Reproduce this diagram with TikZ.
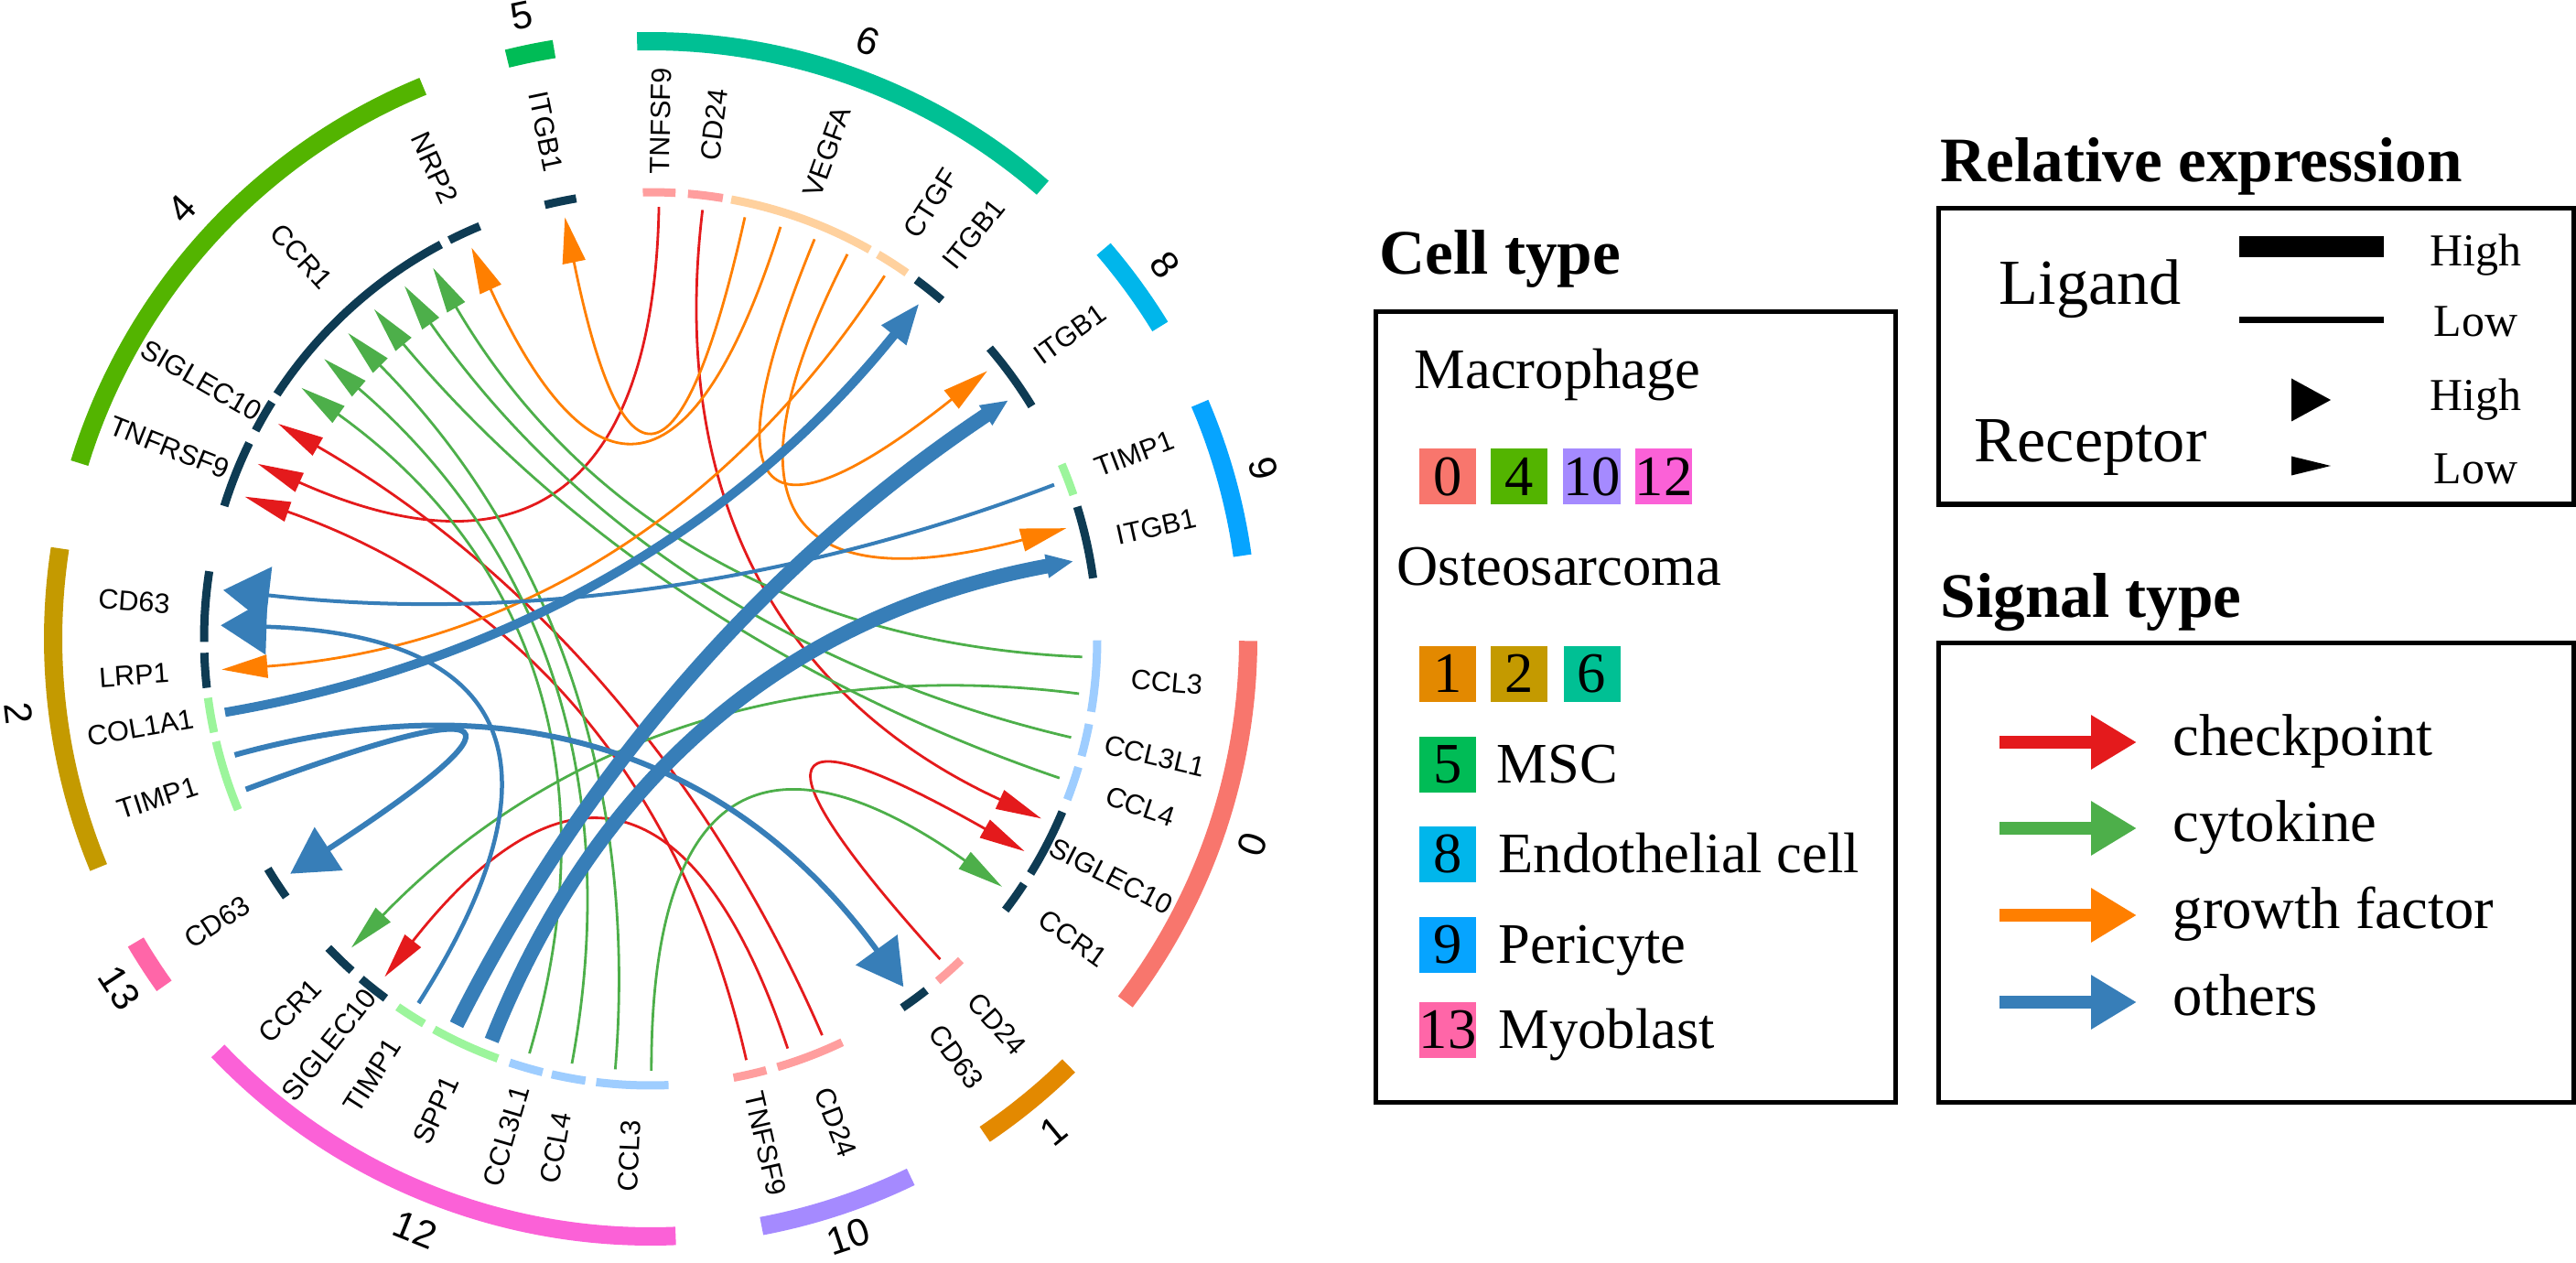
\documentclass[tikz,border=0pt]{standalone}
\usepackage{fontspec}
\setmainfont{Liberation Serif}
\newfontfamily\arialf{Liberation Sans}
\usetikzlibrary{arrows.meta}
\definecolor{c0}{HTML}{F8766D}
\definecolor{c1}{HTML}{E38900}
\definecolor{c2}{HTML}{C49A00}
\definecolor{c4}{HTML}{53B400}
\definecolor{c5}{HTML}{00BC56}
\definecolor{c6}{HTML}{00C094}
\definecolor{c8}{HTML}{00B6EB}
\definecolor{c9}{HTML}{06A4FF}
\definecolor{c10}{HTML}{A58AFF}
\definecolor{c12}{HTML}{FB61D7}
\definecolor{c13}{HTML}{FF66A8}
\definecolor{rec}{HTML}{0E3B53}
\definecolor{lpink}{HTML}{FF9E9E}
\definecolor{lorange}{HTML}{FFD19E}
\definecolor{lgreen}{HTML}{9CF59C}
\definecolor{lblue}{HTML}{9ECDFF}
\definecolor{cRed}{HTML}{E41A1C}
\definecolor{cGreen}{HTML}{4DAF4A}
\definecolor{cOrange}{HTML}{FF7F00}
\definecolor{cBlue}{HTML}{377EB8}

\newcommand\chord[4]{%
  \coordinate (#1s) at (#3:4.72);
  \coordinate (#1t) at (#4:4.70);
  \draw[#2] (#1s) .. controls (#3:1.573) and (#4:1.567) .. (#1t);}
\newcommand\seg[3]{\draw[segline,#3] (#1:4.88) arc[start angle=#1, end angle=#2, radius=4.88];}
\newcommand\sector[3]{\draw[ringline,#3] (#1:6.53) arc[start angle=#1, end angle=#2, radius=6.53];}
\newcommand\glabel[3]{%
  \pgfmathsetmacro\grot{((#2>90)&&(#2<270)) ? #2+180 : #2}%
  \node[glab, rotate=\grot] (#1) at (#2:5.66) {#3};}
\newcommand\clabel[4][6.95]{%
  \pgfmathsetmacro\crot{((#3>0)&&(#3<180)) ? #3-90 : #3+90}%
  \node[clab, rotate=\crot] (#2) at (#3:#1) {#4};}

\tikzset{
  segline/.style={line width=0.09cm},
  ringline/.style={line width=0.2cm},
  glab/.style={font=\arialf\fontsize{8.7}{10}\selectfont, inner sep=0pt, anchor=center},
  clab/.style={font=\arialf\fontsize{12}{14}\selectfont, inner sep=0pt},
  chk/.style={draw=cRed, line width=0.028cm, -{Triangle[length=0.5cm,width=0.22cm]}},
  cyt/.style={draw=cGreen, line width=0.028cm, -{Triangle[length=0.5cm,width=0.22cm]}},
  gro/.style={draw=cOrange, line width=0.028cm, -{Triangle[length=0.5cm,width=0.25cm]}},
  oth/.style n args={3}{draw=cBlue, line width=#1, -{Triangle[length=#2,width=#3]}},
  ttl/.style={font=\bfseries\fontsize{19.7}{22}\selectfont, inner sep=0pt, anchor=base west},
  lt/.style={font=\fontsize{17.8}{20}\selectfont, inner sep=0pt, text height=0.41cm, text depth=0pt, anchor=west},
  st/.style={font=\fontsize{18.4}{20}\selectfont, inner sep=0pt, text height=0.29cm, text depth=0pt, anchor=west},
  bt/.style={font=\fontsize{20}{22}\selectfont, inner sep=0pt, text height=0.466cm, text depth=0pt, anchor=west},
  hl/.style={font=\fontsize{14.2}{16}\selectfont, inner sep=0pt, text height=0.33cm, text depth=0pt, anchor=west},
  sq/.style={minimum width=0.62cm, minimum height=0.61cm, inner sep=0pt, text height=0.41cm, text depth=0pt, font=\fontsize{17.8}{20}\selectfont},
  box/.style={draw, line width=0.05cm},
  legarrow/.style={line width=0.14cm, -{Triangle[length=0.5cm,width=0.56cm]}},
}

\begin{document}
\begin{tikzpicture}
\useasboundingbox (0,0) rectangle (28.15,13.79);

\begin{scope}[shift={(7.11,6.81)}]
% outer sectors
\sector{49}{91.3}{c6}
\sector{99.3}{103.9}{c5}
\sector{112.4}{162.9}{c4}
\sector{171.3}{202.5}{c2}
\sector{210.5}{215.5}{c13}
\sector{223.6}{272.4}{c12}
\sector{280.7}{295.8}{c10}
\sector{304}{314.4}{c1}
\sector{322.6}{359.8}{c0}
\sector{8}{23.2}{c9}
\sector{31.5}{40.7}{c8}

% gene segments
\seg{99.6}{103.7}{rec}
\seg{112.5}{116.8}{rec}
\seg{118}{146.8}{rec}
\seg{148}{152.2}{rec}
\seg{154}{162.7}{rec}
\seg{171.3}{180.4}{rec}
\seg{181.8}{186.3}{rec}
\seg{187.6}{192.1}{lgreen}
\seg{193.3}{202.5}{lgreen}
\seg{211}{215.3}{rec}
\seg{223.8}{228}{rec}
\seg{229.6}{233.6}{rec}
\seg{235.5}{239.5}{lgreen}
\seg{241}{250}{lgreen}
\seg{251.6}{256}{lblue}
\seg{257.2}{261.6}{lblue}
\seg{263}{272.3}{lblue}
\seg{280.7}{285}{lpink}
\seg{286.5}{295.4}{lpink}
\seg{304.3}{308.1}{rec}
\seg{310}{314}{lpink}
\seg{322.6}{326.7}{rec}
\seg{328.3}{337.2}{rec}
\seg{338.9}{343.3}{lblue}
\seg{344.8}{349}{lblue}
\seg{350.6}{359.8}{lblue}
\seg{7.8}{17.2}{rec}
\seg{18.8}{23}{lgreen}
\seg{31.4}{40.6}{rec}
\seg{49.3}{53.5}{rec}
\seg{55}{59.4}{lorange}
\seg{60.6}{79.6}{lorange}
\seg{80.7}{85.2}{lpink}
\seg{86.8}{91}{lpink}

% cluster labels
\clabel{k6}{70}{6}
\clabel{k5}{101.7}{5}
\clabel{k4}{137.5}{4}
\clabel{k2}{186.7}{2}
\clabel{k13}{213.3}{13}
\clabel{k12}{248.3}{12}
\clabel[6.88]{k10}{288.3}{10}
\clabel{k1}{309.3}{1}
\clabel{k0}{341.1}{0}
\clabel{k9}{15.5}{9}
\clabel{k8}{36}{8}

% gene labels
\glabel{l5a}{101.65}{ITGB1}
\glabel{l4a}{114.65}{NRP2}
\glabel{l4b}{132.4}{CCR1}
\glabel{l4c}{150.1}{SIGLEC10}
\glabel{l4d}{158.3}{TNFRSF9}
\glabel{l2a}{175.85}{CD63}
\glabel{l2b}{184.05}{LRP1}
\glabel{l2c}{189.85}{COL1A1}
\glabel{l2d}{197.9}{TIMP1}
\glabel{l13a}{213.15}{CD63}
\glabel{l12a}{225.9}{CCR1}
\glabel{l12b}{231.6}{SIGLEC10}
\glabel{l12c}{237.5}{TIMP1}
\glabel{l12d}{245.5}{SPP1}
\glabel{l12e}{253.8}{CCL3L1}
\glabel{l12f}{259.4}{CCL4}
\glabel{l12g}{267.65}{CCL3}
\glabel{l10a}{282.85}{TNFSF9}
\glabel{l10b}{290.95}{CD24}
\glabel{l1a}{306.2}{CD63}
\glabel{l1b}{312}{CD24}
\glabel{l0a}{324.65}{CCR1}
\glabel{l0b}{332.75}{SIGLEC10}
\glabel{l0c}{341.1}{CCL4}
\glabel{l0d}{346.9}{CCL3L1}
\glabel{l0e}{355.2}{CCL3}
\glabel{l9a}{12.5}{ITGB1}
\glabel{l9b}{20.9}{TIMP1}
\glabel{l8a}{36}{ITGB1}
\glabel{l6a}{51.4}{ITGB1}
\glabel{l6b}{57.2}{CTGF}
\glabel{l6c}{70.1}{VEGFA}
\glabel{l6d}{82.95}{CD24}
\glabel{l6e}{88.9}{TNFSF9}

% chords: checkpoint
\chord{r1}{chk}{88.9}{156.0}
\chord{r2}{chk}{282.8}{160.7}
\chord{r3}{chk}{83.1}{335.3}
\chord{r4}{chk}{288.5}{231.8}
\chord{r5}{chk}{293.4}{150.0}
\chord{r6}{chk}{312.1}{330.4}
% cytokine
\chord{g1}{cyt}{357.6}{120.4}
\chord{g2}{cyt}{346.8}{124.9}
\chord{g3}{cyt}{341.2}{130.0}
\chord{g4}{cyt}{265.3}{134.7}
\chord{g5}{cyt}{259.5}{139.4}
\chord{g6}{cyt}{253.7}{144.3}
\chord{g7}{cyt}{352.7}{225.9}
\chord{g8}{cyt}{270.1}{324.8}
% growth factor
\chord{o1}{gro}{57.2}{184.1}
\chord{o2}{gro}{62.9}{14.9}
\chord{o3}{gro}{67.7}{38.5}
\chord{o4}{gro}{72.5}{114.6}
\chord{o5}{gro}{77.4}{101.5}
% others
\chord{b1}{oth={0.04cm}{0.5cm}{0.62cm}}{20.9}{173.5}
\chord{b2}{oth={0.045cm}{0.5cm}{0.6cm}}{237.5}{178.2}
\chord{b3}{oth={0.06cm}{0.5cm}{0.55cm}}{200.4}{213.1}
\chord{b4}{oth={0.06cm}{0.5cm}{0.55cm}}{195.6}{306.0}
\chord{b5}{oth={0.10cm}{0.45cm}{0.32cm}}{189.8}{51.3}
\chord{b6}{oth={0.16cm}{0.3cm}{0.24cm}}{243.3}{33.7}
\chord{b7}{oth={0.16cm}{0.3cm}{0.24cm}}{248.4}{10.4}
\end{scope}

% ---------- legend: cell type ----------
\node[ttl] (cttitle) at (15.07,10.79) {Cell type};
\draw[box] (15.03,10.38) rectangle (20.71,1.75);
\node[lt] (macro) at (15.45,9.75) {Macrophage};
\node[sq, fill=c0] (s0) at (15.82,8.58) {0};
\node[sq, fill=c4] (s4) at (16.60,8.58) {4};
\node[sq, fill=c10] (s10) at (17.395,8.58) {10};
\node[sq, fill=c12] (s12) at (18.18,8.58) {12};
\node[lt] (osteo) at (15.26,7.60) {Osteosarcoma};
\node[sq, fill=c1] (s1) at (15.82,6.43) {1};
\node[sq, fill=c2] (s2) at (16.60,6.43) {2};
\node[sq, fill=c6] (s6) at (17.395,6.43) {6};
\node[sq, fill=c5] (s5) at (15.82,5.44) {5};
\node[lt] (msc) at (16.35,5.44) {MSC};
\node[sq, fill=c8] (s8) at (15.82,4.46) {8};
\node[lt] (endo) at (16.37,4.46) {Endothelial cell};
\node[sq, fill=c9] (s9) at (15.82,3.47) {9};
\node[lt] (peri) at (16.37,3.47) {Pericyte};
\node[sq, fill=c13] (s13) at (15.82,2.54) {13};
\node[lt] (myo) at (16.37,2.54) {Myoblast};

% ---------- legend: relative expression ----------
\node[ttl] (retitle) at (21.20,11.80) {Relative expression};
\draw[box] (21.18,11.51) rectangle (28.12,8.28);
\node[bt] (lig) at (21.84,10.70) {Ligand};
\coordinate (lh1) at (24.47,11.09); \coordinate (lh2) at (26.05,11.09);
\coordinate (ll1) at (24.47,10.29); \coordinate (ll2) at (26.05,10.29);
\draw[line width=0.23cm] (lh1) -- (lh2);
\draw[line width=0.07cm] (ll1) -- (ll2);
\node[hl] (lhigh) at (26.55,11.05) {High};
\node[hl] (llow) at (26.59,10.28) {Low};
\node[bt] (recp) at (21.57,8.98) {Receptor};
\fill (25.04,9.655) -- (25.47,9.42) -- (25.04,9.185) -- cycle;
\fill (25.04,8.805) -- (25.47,8.70) -- (25.04,8.595) -- cycle;
\node[hl] (rhigh) at (26.55,9.47) {High};
\node[hl] (rlow) at (26.59,8.67) {Low};

% ---------- legend: signal type ----------
\node[ttl] (sttitle) at (21.20,7.05) {Signal type};
\draw[box] (21.18,6.77) rectangle (28.12,1.75);
\coordinate (a1s) at (21.85,5.68); \coordinate (a1t) at (23.35,5.68);
\coordinate (a2s) at (21.85,4.74); \coordinate (a2t) at (23.35,4.74);
\coordinate (a3s) at (21.85,3.79); \coordinate (a3t) at (23.35,3.79);
\coordinate (a4s) at (21.85,2.84); \coordinate (a4t) at (23.35,2.84);
\draw[legarrow, cRed] (a1s) -- (a1t);
\draw[legarrow, cGreen] (a2s) -- (a2t);
\draw[legarrow, cOrange] (a3s) -- (a3t);
\draw[legarrow, cBlue] (a4s) -- (a4t);
\node[st] (tchk) at (23.74,5.68) {checkpoint};
\node[st] (tcyt) at (23.74,4.74) {cytokine};
\node[st] (tgro) at (23.74,3.79) {growth factor};
\node[st] (toth) at (23.74,2.84) {others};
\end{tikzpicture}
\end{document}
